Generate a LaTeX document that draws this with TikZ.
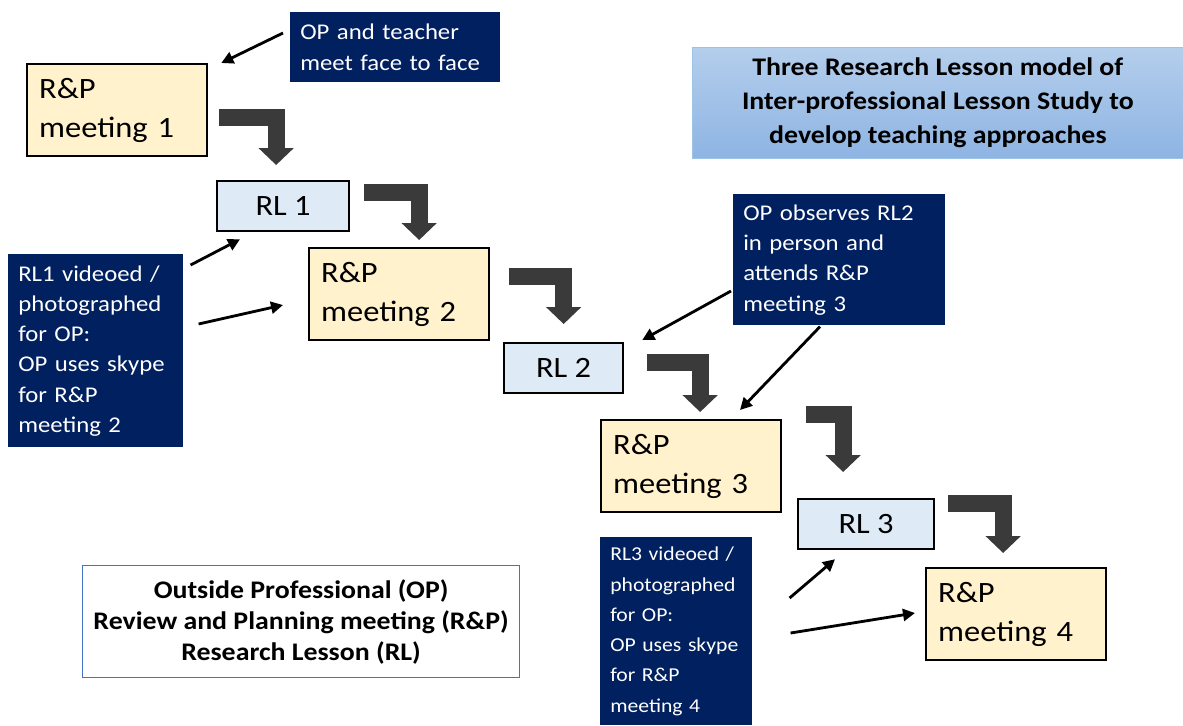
\documentclass[tikz,border=0pt]{standalone}
\usepackage{fontspec}
\setmainfont{Carlito}[FakeStretch=1.1]
\usetikzlibrary{arrows.meta}
\usetikzlibrary{calc}
\usetikzlibrary{positioning}
\definecolor{navy}{HTML}{002060}
\definecolor{meetfill}{HTML}{FFF2CC}
\definecolor{lessonfill}{HTML}{DEEBF7}
\definecolor{blockgrey}{HTML}{3A3A3A}
\definecolor{titletop}{HTML}{B4CEEC}
\definecolor{titlebot}{HTML}{8EB4E3}
\definecolor{titleline}{HTML}{9DC3E6}
\definecolor{keyline}{HTML}{4472C4}
\tikzset{
	meetbox/.style={draw=black, line width=1.6pt, fill=meetfill, anchor=north west, minimum height=2.3cm, text width=3.9cm, inner xsep=0.3cm, align=left, font=\fontsize{21}{28}\selectfont},
	lessonbox/.style={draw=black, line width=1.6pt, fill=lessonfill, anchor=north west, minimum height=1.25cm, font=\fontsize{21}{28}\selectfont},
	notebox/.style={fill=navy, text=white, anchor=north west, align=left, inner xsep=0.25cm, font=\fontsize{16}{21.5}\selectfont},
	blockarrow/.style={draw=blockgrey, line width=0.42cm, -{Triangle[width=0.85cm,length=0.42cm]}},
	thinarrow/.style={line width=2pt, -{Triangle[width=0.3cm,length=0.3cm]}}
}

\begin{document}
\begin{tikzpicture}[x=0.025cm, y=-0.025cm] % one unit = one pixel of the sketch, y runs down
	\useasboundingbox (0,0) rectangle (1183,725);
	
	% Review and planning meetings
	\node[meetbox] (m1) at (26,63) {R\&P\\meeting 1};
	\node[meetbox] (m2) at (308,247) {R\&P\\meeting 2};
	\node[meetbox] (m3) at (600,419) {R\&P\\meeting 3};
	\node[meetbox] (m4) at (925,567) {R\&P\\meeting 4};
	
	% Research lessons
	\node[lessonbox, minimum width=3.3cm] (l1) at (216,180) {RL 1};
	\node[lessonbox, minimum width=2.975cm] (l2) at (503,342) {RL 2};
	\node[lessonbox, minimum width=3.4cm] (l3) at (797,498) {RL 3};
	
	% Notes on what the OP does
	\node[notebox, minimum width=5.25cm, minimum height=1.75cm, text width=4.75cm] (opA) at (290,12) {OP and teacher\\meet face to face};
	\node[notebox, minimum width=5.3cm, minimum height=3.275cm, text width=4.8cm] (opB) at (733,194) {OP observes RL2\\in person and\\attends R\&P\\meeting 3};
	\node[notebox, minimum width=4.375cm, minimum height=4.825cm, text width=3.875cm] (note1) at (8,254) {RL1 videoed /\\photographed\\for OP:\\OP uses skype\\for R\&P\\meeting 2};
	\node[notebox, minimum width=3.8cm, minimum height=4.7cm, text width=3.3cm, font=\fontsize{14}{21.5}\selectfont] (note3) at (600,537) {RL3 videoed /\\photographed\\for OP:\\OP uses skype\\for R\&P\\meeting 4};
	
	% Title and key
	\node[anchor=north west, draw=titleline, top color=titletop, bottom color=titlebot, minimum width=12.275cm, minimum height=2.775cm, align=center, font=\fontsize{18}{24}\selectfont\bfseries] (title) at (692,47) {Three Research Lesson model of\\Inter-professional Lesson Study to\\develop teaching approaches};
	\node[anchor=north west, draw=keyline, line width=0.8pt, fill=white, minimum width=10.925cm, minimum height=2.8cm, align=center, font=\fontsize{18}{22}\selectfont\bfseries] (key) at (82,565) {Outside Professional (OP)\\Review and Planning meeting (R\&P)\\Research Lesson (RL)};
	
	% Bent block arrows along the cycle
	\draw[blockarrow] ($(m1.east)+(11,7)$) -| ($(l1.north)+(-7,-15)$);
	\draw[blockarrow] ($(l1.east)+(14,-14)$) -| ($(m2.north)+(20,-7)$);
	\draw[blockarrow] ($(m2.east)+(19,-17.5)$) -| ($(l2.north)+(0,-18)$);
	\draw[blockarrow] ($(l2.east)+(23,-5.5)$) -| ($(m3.north)+(9,-7)$);
	\draw[blockarrow] ($(m3.east)+(24,-51.5)$) -| ($(l3.north)+(-23,-26)$);
	\draw[blockarrow] ($(l3.east)+(13,-20.5)$) -| ($(m4.north)+(-13,-14)$);
	
	% Thin arrows from the notes
	\draw[thinarrow] ($(opA.north west)+(-7,21)$) -- ($(m1.north east)+(13,0)$);
	\draw[thinarrow] ($(note1.north east)+(7,11)$) -- ($(l1.south west)+(24,7)$);
	\draw[thinarrow] ($(note1.north east)+(15,70)$) -- ($(m2.north west)+(-25,58)$);
	\draw[thinarrow] ($(opB.north west)+(-2,97)$) -- ($(l2.north east)+(18,-2)$);
	\draw[thinarrow] ($(opB.south west)+(87,1)$) -- ($(m3.north west)+(140,-9)$);
	\draw[thinarrow] ($(note3.north east)+(37,61)$) -- ($(l3.south west)+(38,9)$);
	\draw[thinarrow] ($(note3.north east)+(38,96)$) -- ($(m4.north west)+(-10,46)$);
\end{tikzpicture}
\end{document}
